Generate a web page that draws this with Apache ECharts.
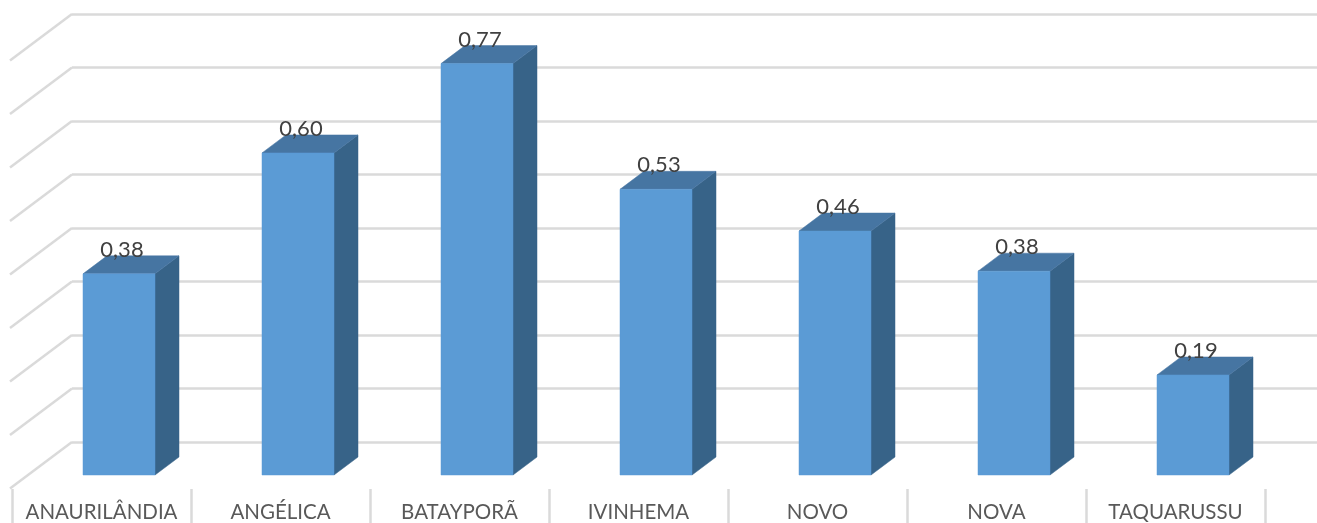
<!DOCTYPE html>
<html>
<head>
<meta charset="utf-8">
<style>html,body{margin:0;padding:0;background:#fff}#c{width:1317px;height:523px}</style>
<script src="https://cdn.jsdelivr.net/npm/echarts@6/dist/echarts.min.js"></script>
</head>
<body>
<div id="c"></div>
<script>
const categories = ['ANAURILÂNDIA','ANGÉLICA','BATAYPORÃ','IVINHEMA','NOVO','NOVA','TAQUARUSSU'];
const values = [0.376,0.602,0.769,0.534,0.456,0.381,0.187];
const wallTicks = [0,0.1,0.2,0.3,0.4,0.5,0.6,0.7,0.8];

const GRID = '#dadada';
const chart = echarts.init(document.getElementById('c'), null, {renderer:'canvas'});
chart.setOption({
  animation:false,
  backgroundColor:'#fff',
  grid:[
    {left:72,right:0,top:14,height:428},
    {left:12,width:1253,top:47,height:428},
    {left:12,width:1253,top:47,height:442}
  ],
  xAxis:[
    {gridIndex:0,type:'value',min:0,max:1,show:false},
    {gridIndex:1,type:'category',data:categories,show:false},
    {gridIndex:2,type:'category',data:categories,
      axisLine:{show:false},
      axisTick:{show:true,length:34,lineStyle:{color:GRID,width:2.5}},
      axisLabel:{color:'#595959',fontFamily:'Lato',fontSize:20.5,margin:13,interval:0}}
  ],
  yAxis:[
    {gridIndex:0,type:'value',min:0,max:0.8,interval:0.1,
      axisLine:{show:false},axisTick:{show:false},axisLabel:{show:false},
      splitLine:{show:true,lineStyle:{color:GRID,width:2.5}}},
    {gridIndex:1,type:'value',min:0,max:0.8,interval:0.1,show:false,splitLine:{show:false}},
    {gridIndex:2,type:'value',min:0,max:0.8,interval:0.1,show:false,splitLine:{show:false}}
  ],
  series:[
    {
      type:'custom',xAxisIndex:0,yAxisIndex:0,silent:true,z:1,
      data:wallTicks.map(v=>[0,v]),
      encode:{x:0,y:1},
      renderItem(params,api){
        const p=api.coord([0,api.value(1)]);
        return {type:'line',shape:{x1:p[0],y1:p[1],x2:p[0]-62,y2:p[1]+46.5},
          style:{stroke:GRID,lineWidth:2.5,fill:null}};
      }
    },
    {
      type:'custom',xAxisIndex:1,yAxisIndex:1,silent:true,z:2,
      data:values.map((v,i)=>[i,v]),
      encode:{x:0,y:1},
      renderItem(params,api){
        const i=api.value(0), v=api.value(1);
        const top=api.coord([i,v]), base=api.coord([i,0]);
        const cx=top[0]+17.5, w=72, dx=24, dy=18;
        const l=cx-w/2, r=cx+w/2, t=top[1], b=base[1];
        const poly=(pts,fill)=>({type:'polygon',z2:1,shape:{points:pts},style:{fill:fill,stroke:fill,lineWidth:0.5}});
        return {type:'group',children:[
          poly([[r,t],[r+dx,t-dy],[r+dx,b-dy],[r,b]],'#376388'),
          poly([[l,t],[l+dx,t-dy],[r+dx,t-dy],[r,t]],'#4675A2'),
          poly([[l,t],[r,t],[r,b],[l,b]],'#5B9BD5'),
          {type:'text',z2:20,style:{text:v.toFixed(2).replace('.',','),x:cx+3,y:t-24,
            align:'center',verticalAlign:'middle',fill:'#404040',
            fontFamily:'Lato',fontSize:22}}
        ]};
      }
    }
  ]
});
</script>
</body>
</html>
